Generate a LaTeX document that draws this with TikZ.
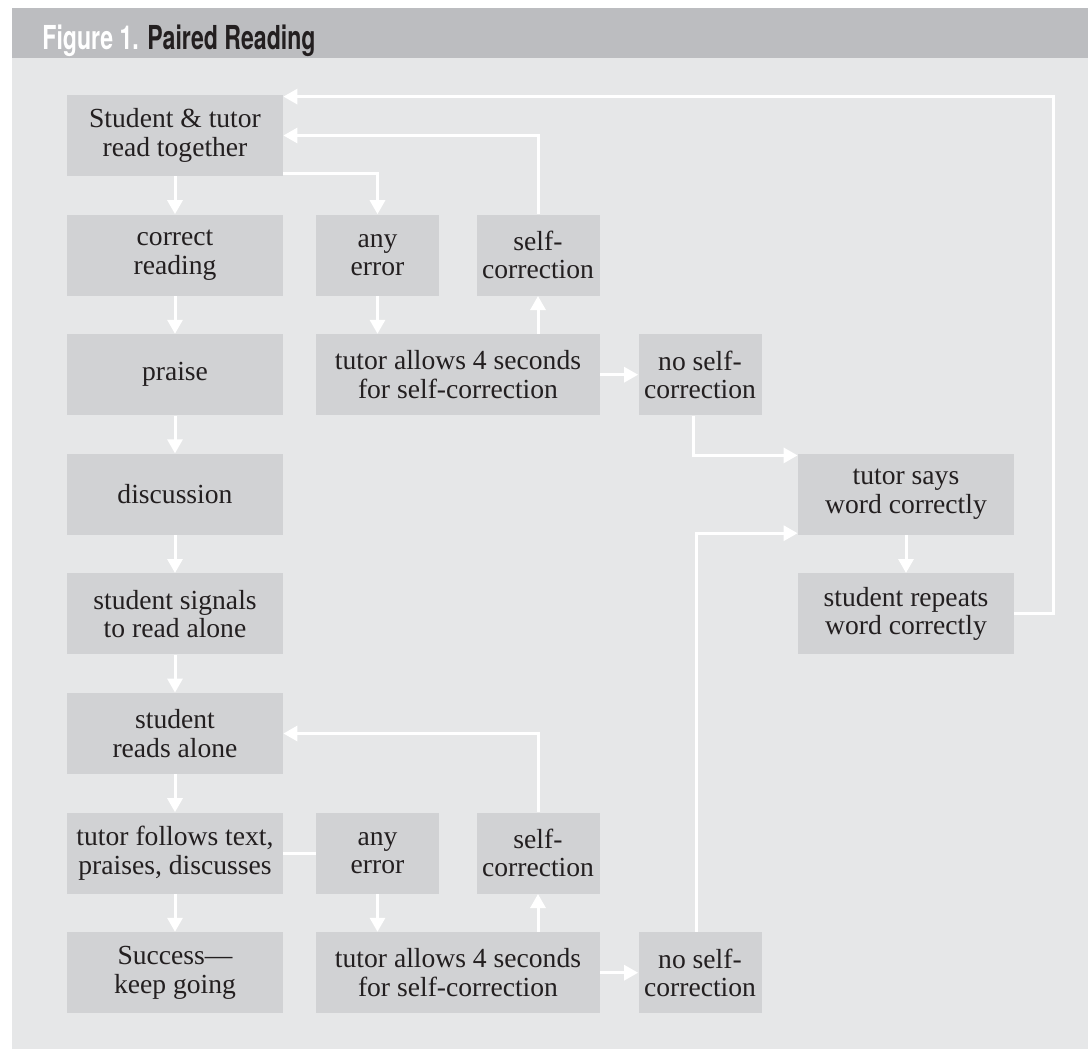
\documentclass[tikz,border=0pt]{standalone}
\usepackage{fontspec}
\setmainfont{Liberation Serif}
\newfontfamily\headfont[FakeStretch=0.7]{TeX Gyre Heros}
\usetikzlibrary{arrows.meta}

\definecolor{headgray}{HTML}{BCBDC0}
\definecolor{panelgray}{HTML}{E6E7E8}
\definecolor{boxgray}{HTML}{D1D2D4}
\definecolor{ink}{HTML}{231F20}

\begin{document}
\begin{tikzpicture}[main/.style = {fill=boxgray, text=ink, align=center, inner sep=0pt,
        minimum width=108pt, minimum height=40.5pt, font=\fontsize{13.8}{14.2}\selectfont},
    small/.style = {main, minimum width=61.5pt},
    wide/.style = {main, minimum width=142pt},
    link/.style = {white, line width=1.5pt},
    arr/.style = {link, -{Triangle[length=7pt, width=7.5pt]}},
    node distance = 59.8pt]
    \useasboundingbox (0,0) rectangle (544pt,-525pt);
    \fill[headgray] (6pt,-4pt) rectangle (544pt,-29pt);
    \fill[panelgray] (6pt,-29pt) rectangle (544pt,-524.5pt);
    \node[anchor=base west, inner sep=0pt, font=\headfont\bfseries\fontsize{16.5}{18}\selectfont] (title) at (21pt,-24.5pt)
        {\textcolor{white}{Figure 1.} \textcolor{ink}{Paired Reading}};
    % left column
    \node[main] (1) at (87.5pt,-67.75pt) {Student \& tutor\\read together};
    \node[main] (2) [below of=1] {correct\\reading};
    \node[main] (3) [below of=2] {praise};
    \node[main] (4) [below of=3] {discussion};
    \node[main] (5) [below of=4] {student signals\\to read alone};
    \node[main] (6) [below of=5] {student\\reads alone};
    \node[main] (7) [below of=6] {tutor follows text,\\praises, discusses};
    \node[main] (8) [below of=7] {Success---\\keep going};
    % upper error branch
    \node[small] (9) [right of=2, node distance=101.25pt] {any\\error};
    \node[small] (10) [right of=9, node distance=80.25pt] {self-\\correction};
    \node[wide] (11) [right of=3, node distance=141.5pt] {tutor allows 4 seconds\\for self-correction};
    \node[small] (12) [right of=11, node distance=121pt] {no self-\\correction};
    \node[main] (13) [right of=4, node distance=365.5pt] {tutor says\\word correctly};
    \node[main] (14) [below of=13] {student repeats\\word correctly};
    % lower error branch
    \node[small] (15) [right of=7, node distance=101.25pt] {any\\error};
    \node[small] (16) [right of=15, node distance=80.25pt] {self-\\correction};
    \node[wide] (17) [right of=8, node distance=141.5pt] {tutor allows 4 seconds\\for self-correction};
    \node[small] (18) [right of=17, node distance=121pt] {no self-\\correction};

    \foreach \a/\b in {1/2, 2/3, 3/4, 4/5, 5/6, 6/7, 7/8, 13/14}
        \draw[arr] (\a) -- (\b);
    \draw[arr] ([yshift=1.5pt]1.south east) -| (9.north);
    \draw[arr] (9) -- (9 |- 11.north);
    \draw[arr] (10 |- 11.north) -- (10);
    \draw[arr] (10.north) |- (1.east);
    \draw[arr] (11) -- (12);
    \draw[arr] ([xshift=-3.5pt]12.south) |- ([yshift=-1pt]13.north west);
    \draw[arr] (14.east) -- ++(19.5pt,0) |- ([yshift=-1pt]1.north east);
    \draw[link] (7) -- (15);
    \draw[arr] (15) -- (15 |- 17.north);
    \draw[arr] (16 |- 17.north) -- (16);
    \draw[arr] (16.north) |- (6.east);
    \draw[arr] (17) -- (18);
    \draw[arr] ([xshift=-2pt]18.north) |- ([yshift=1pt]13.south west);
\end{tikzpicture}
\end{document}
